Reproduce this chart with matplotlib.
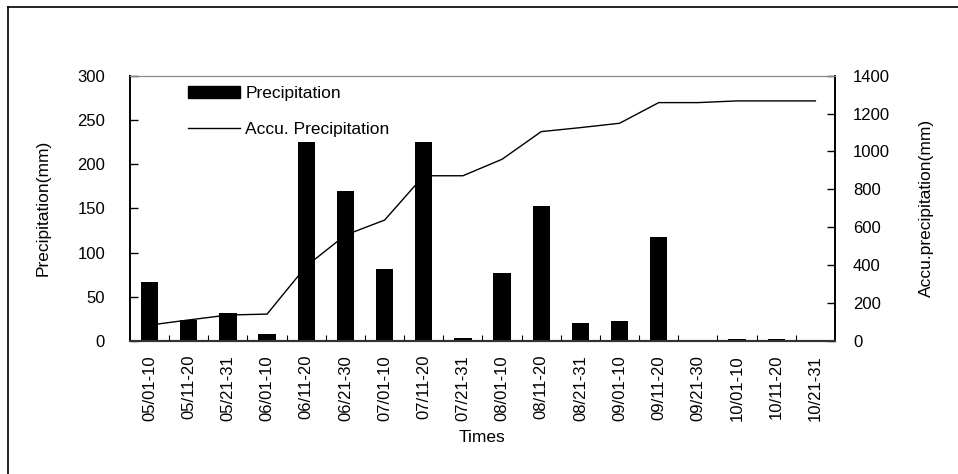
import matplotlib
matplotlib.use("Agg")
import matplotlib.pyplot as plt
from matplotlib.lines import Line2D
from matplotlib.patches import Patch
import numpy as np

plt.rcParams["font.family"] = ["Liberation Sans", "DejaVu Sans"]

# 旬降水量与累计降水量
periods = ["05/01-10", "05/11-20", "05/21-31", "06/01-10", "06/11-20", "06/21-30",
           "07/01-10", "07/11-20", "07/21-31", "08/01-10", "08/11-20", "08/21-31",
           "09/01-10", "09/11-20", "09/21-30", "10/01-10", "10/11-20", "10/21-31"]
precip = [67, 24, 32, 8, 225, 170, 81, 225, 3, 77, 153, 20, 23, 118, 0, 2, 2, 0]
accu = [84, 111, 137, 142, 395, 559, 638, 872, 872, 959, 1105, 1126, 1149,
        1258, 1258, 1267, 1267, 1267]

x = np.arange(len(periods))

fig = plt.figure(figsize=(9.58, 4.74), dpi=100)
ax = fig.add_axes([0.1357, 0.2806, 0.7359, 0.5597])
ax2 = ax.twinx()

ax.bar(x, precip, width=0.44, color="black", zorder=2)
ax2.plot(x, accu, color="black", linewidth=1.0)

ax.set_xlim(-0.5, len(periods) - 0.5)
ax.set_ylim(0, 300)
ax2.set_ylim(0, 1400)
ax.set_yticks(range(0, 301, 50))
ax2.set_yticks(range(0, 1401, 200))

ax.set_xticks(x)
ax.set_xticklabels(periods, rotation=90, fontsize=12)
ax.set_xticks(np.arange(0.5, len(periods) - 0.5), minor=True)
ax.tick_params(axis="x", which="major", length=0, pad=10)
ax.tick_params(axis="x", which="minor", direction="in", length=4, width=0.8)
ax.tick_params(axis="y", direction="in", length=6, width=1.0, pad=18, labelsize=12)
ax2.tick_params(axis="y", direction="in", length=6, width=1.0, pad=13, labelsize=12)

for a in (ax, ax2):
    a.spines["top"].set_color("#888888")
    a.spines["left"].set_linewidth(1.2)
    a.spines["right"].set_linewidth(1.2)
    a.spines["bottom"].set_linewidth(1.5)
    a.spines["bottom"].set_color("#333333")

ax.set_ylabel("Precipitation(mm)", fontsize=12.5, labelpad=19)
ax2.set_ylabel("Accu.precipitation(mm)", fontsize=12.5, labelpad=21)
ax.set_xlabel("Times", fontsize=12.5, labelpad=7)

handles = [Patch(facecolor="black", edgecolor="black"),
           Line2D([], [], color="black", linewidth=1.0)]
ax2.legend(handles, ["Precipitation", "Accu. Precipitation"], loc="upper left",
           bbox_to_anchor=(0.0823, 0.962), frameon=False, fontsize=12.5,
           handlelength=3.0, handleheight=0.66, handletextpad=0.3, labelspacing=1.2,
           borderaxespad=0, borderpad=0)

# 外边框（左、上）
fig.add_artist(Line2D([8 / 958, 8 / 958], [0, 1 - 7 / 474], color="black", linewidth=1.2))
fig.add_artist(Line2D([8 / 958, 1], [1 - 7 / 474, 1 - 7 / 474], color="black", linewidth=1.2))

fig.savefig("out.png", dpi=100)
